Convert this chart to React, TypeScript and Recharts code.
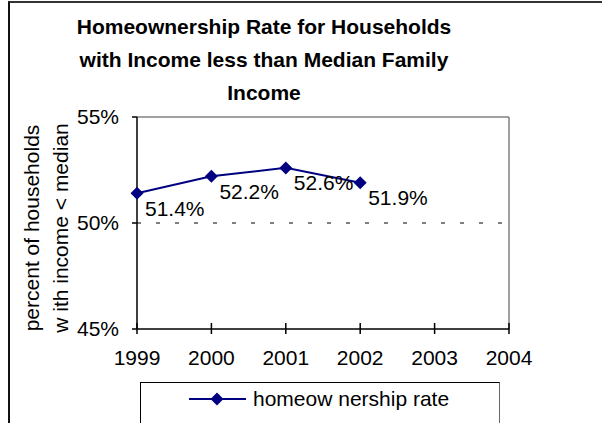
import {
  LabelList,
  Line,
  LineChart,
  ReferenceLine,
  XAxis,
  YAxis,
} from "recharts";

const years = [1999, 2000, 2001, 2002];
const rates = [51.4, 52.2, 52.6, 51.9];
const xTicks = [1999, 2000, 2001, 2002, 2003, 2004];
const yTicks = [45, 50, 55];
const titleLines = [
  "Homeownership Rate for Households",
  "with Income less than Median Family",
  "Income",
];
const yLabelLines = ["percent of households", "w ith income < median"];
const seriesName = "homeow nership rate";

const data = years.map((year, i) => ({ year, rate: rates[i] }));

const font = "'Liberation Sans', Arial, sans-serif";
const navy = "#000080";

function Diamond(props: any) {
  const { cx, cy } = props;
  if (cx == null || cy == null) return null;
  const r = 6.5;
  return (
    <path
      d={`M${cx},${cy - r}L${cx + r},${cy}L${cx},${cy + r}L${cx - r},${cy}Z`}
      fill={navy}
      stroke="none"
    />
  );
}

function XTick(props: any) {
  const { x, y, payload } = props;
  const axisY = y - 21;
  return (
    <g>
      <line x1={x} x2={x} y1={axisY - 6} y2={axisY} stroke="#000" strokeWidth={1.5} />
      <text x={x} y={y} dy="0.71em" textAnchor="middle" fontSize={21} fill="#000" fontFamily={font}>
        {payload.value}
      </text>
    </g>
  );
}

function YLabel(props: any) {
  const { viewBox } = props;
  const cy = viewBox.y + viewBox.height / 2 + 5;
  const xs = [viewBox.x + 23, viewBox.x + 52];
  return (
    <g>
      {yLabelLines.map((line, i) => (
        <text
          key={line}
          x={xs[i]}
          y={cy}
          transform={`rotate(-90, ${xs[i]}, ${cy})`}
          textAnchor="middle"
          dominantBaseline="central"
          fontSize={21}
          fill="#000"
          fontFamily={font}
        >
          {line}
        </text>
      ))}
    </g>
  );
}

function PointLabel(props: any) {
  const { x, y, value } = props;
  return (
    <text
      x={x + 8}
      y={y + 15}
      dominantBaseline="central"
      fontSize={21}
      fill="#000"
      fontFamily={font}
    >
      {`${Number(value).toFixed(1)}%`}
    </text>
  );
}

export default function App() {
  return (
    <div
      style={{
        position: "absolute",
        left: 0,
        top: 0,
        width: 602,
        height: 423,
        overflow: "hidden",
        background: "#fff",
        fontFamily: font,
      }}
    >
      <div
        style={{
          position: "absolute",
          left: 8,
          top: 1,
          width: 700,
          height: 600,
          borderLeft: "2px solid #111",
          borderTop: "2px solid #333",
        }}
      />
      <div
        style={{
          position: "absolute",
          left: 8,
          top: 10,
          width: 512,
          textAlign: "center",
          fontWeight: "bold",
          fontSize: 21,
          lineHeight: "33px",
          color: "#000",
        }}
      >
        {titleLines.map((line) => (
          <div key={line}>{line}</div>
        ))}
      </div>
      <div style={{ position: "absolute", left: 0, top: 0 }}>
        <LineChart
          width={602}
          height={423}
          data={data}
          margin={{ top: 117, right: 93, bottom: 54, left: 8 }}
        >
          <ReferenceLine y={55} stroke="#808080" strokeWidth={1.5} />
          <ReferenceLine x={2004} stroke="#808080" strokeWidth={1.5} />
          <ReferenceLine y={50} stroke="#000" strokeDasharray="4 15" />
          <XAxis
            dataKey="year"
            type="number"
            domain={[1999, 2004]}
            ticks={xTicks}
            height={40}
            tickSize={5}
            tickMargin={16}
            axisLine={{ stroke: "#000", strokeWidth: 1.5 }}
            tickLine={{ stroke: "#000", strokeWidth: 1.5 }}
            tick={<XTick />}
          />
          <YAxis
            type="number"
            domain={[45, 55]}
            ticks={yTicks}
            width={129}
            tickSize={5}
            tickMargin={13}
            tickFormatter={(v) => `${v}%`}
            axisLine={{ stroke: "#000", strokeWidth: 1.5 }}
            tickLine={{ stroke: "#000", strokeWidth: 1.5 }}
            tick={{ fontSize: 21, fill: "#000", fontFamily: font }}
            label={{ content: <YLabel /> }}
          />
          <Line
            dataKey="rate"
            name={seriesName}
            stroke={navy}
            strokeWidth={2}
            dot={<Diamond />}
            activeDot={false}
            isAnimationActive={false}
          >
            <LabelList dataKey="rate" content={<PointLabel />} />
          </Line>
        </LineChart>
      </div>
      <div
        style={{
          position: "absolute",
          left: 140,
          top: 382,
          width: 358,
          height: 80,
          border: "1px solid #000",
          borderRightColor: "#666",
        }}
      >
        <svg width={110} height={32} style={{ position: "absolute", left: 0, top: 0 }}>
          <line x1={48} x2={105} y1={16} y2={16} stroke={navy} strokeWidth={2} />
          <Diamond cx={76} cy={16} />
        </svg>
        <div
          style={{
            position: "absolute",
            left: 112,
            top: 0,
            height: 32,
            lineHeight: "32px",
            fontSize: 21,
            color: "#000",
            whiteSpace: "pre",
          }}
        >
          {seriesName}
        </div>
      </div>
    </div>
  );
}
